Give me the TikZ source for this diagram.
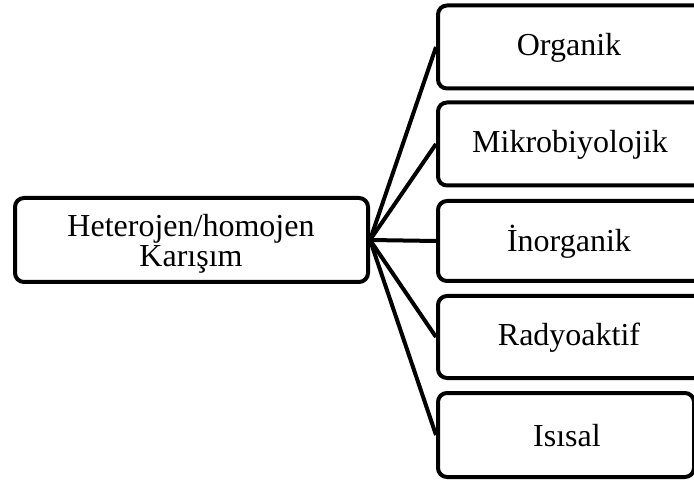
\documentclass[tikz,border=0pt]{standalone}
\usepackage{fontspec}
\setmainfont{Liberation Serif}

\begin{document}
\begin{tikzpicture}[x=1pt,y=-1pt,
		kutu/.style={draw, line width=4pt, rounded corners=9pt},
		yazi/.style={align=center, font=\fontsize{32}{30}\selectfont},
		bag/.style={line width=4pt}]
		\useasboundingbox (0,0) rectangle (694,481);
		\node[kutu, minimum width=353pt, minimum height=84pt] (karisim) at (191.5,240) {};  % sol
		\node[kutu, anchor=west, minimum width=290pt, minimum height=83pt] (organik) at (436,47) {};  % 1
		\node[kutu, anchor=west, minimum width=290pt, minimum height=83pt] (mikro) at (436,144) {};  % 2
		\node[kutu, anchor=west, minimum width=290pt, minimum height=80pt] (inorganik) at (436,241) {};  % 3
		\node[kutu, anchor=west, minimum width=290pt, minimum height=82pt] (radyo) at (436,337) {};  % 4
		\node[kutu, anchor=west, minimum width=256pt, minimum height=84pt] (isisal) at (436,435) {};  % 5
		\node[yazi] (t0) at (191,244) {Heterojen/homojen\\Karışım};
		\node[yazi] (t1) at (569,48) {Organik};
		\node[yazi] (t2) at (570,145) {Mikrobiyolojik};
		\node[yazi] (t3) at (569,242) {İnorganik};
		\node[yazi] (t4) at (569,338) {Radyoaktif};
		\node[yazi] (t5) at (567,436) {Isısal};
		\draw[bag] (karisim.east) -- (organik.west);
		\draw[bag] (karisim.east) -- (mikro.west);
		\draw[bag] (karisim.east) -- (inorganik.west);
		\draw[bag] (karisim.east) -- (radyo.west);
		\draw[bag] (karisim.east) -- (isisal.west);
	\end{tikzpicture}
\end{document}
